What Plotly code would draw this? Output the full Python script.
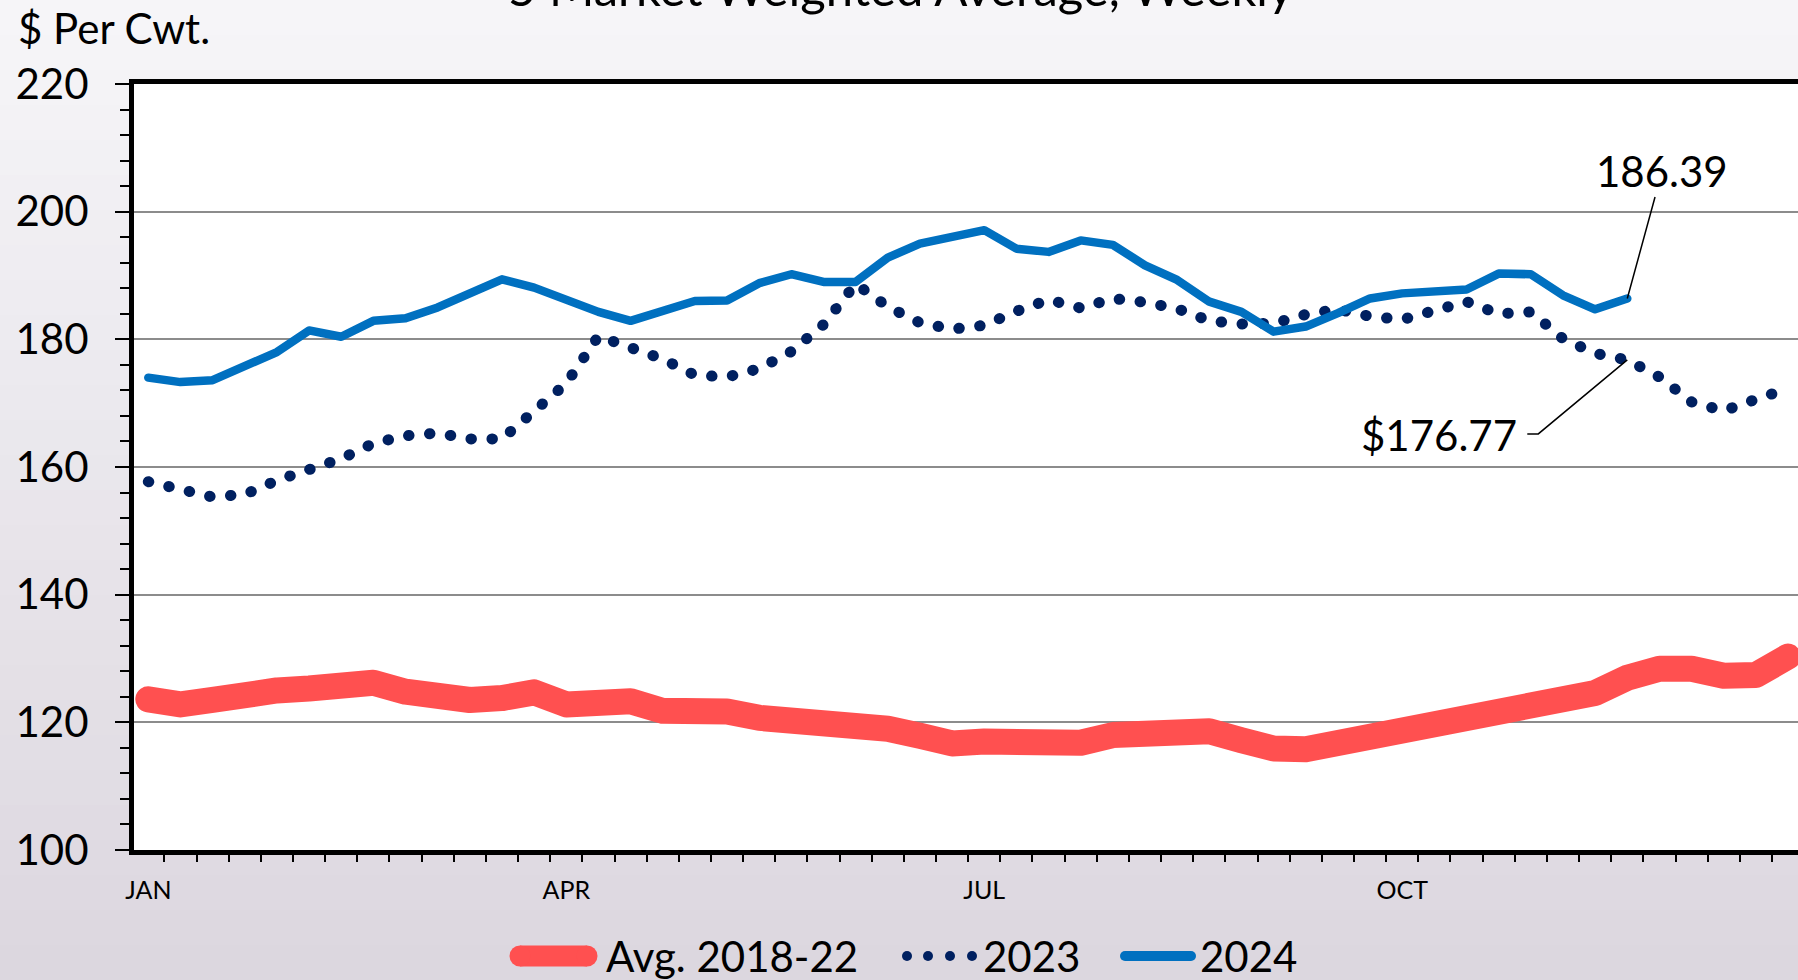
import plotly.graph_objects as go

# ---------------- data ----------------
weeks = list(range(52))
avg_2018_22 = [123.6, 122.8, 123.5, 124.7, 125.0, 125.3, 126.0, 126.2, 124.8, 124.0,
               123.5, 123.8, 124.7, 122.8, 122.7, 123.3, 121.8, 121.8, 121.7, 120.7,
               120.4, 120.0, 120.1, 119.0, 117.9, 116.7, 117.0, 116.9, 116.8, 116.8,
               118.0, 118.4, 118.7, 118.6, 117.2, 115.9, 115.8, 116.8, 117.4, 118.9,
               119.7, 120.2, 121.4, 122.6, 123.7, 124.6, 127.0, 128.4, 128.4, 127.3,
               127.4, 130.3]
y2023 = [157.7, 156.7, 155.3, 155.7, 157.9, 159.6, 161.3, 163.7, 164.9, 165.3,
         164.4, 164.4, 168.8, 173.1, 180.5, 178.6, 176.9, 174.4, 174.1, 175.4,
         178.1, 182.3, 188.7, 185.1, 182.6, 181.6, 182.2, 184.4, 186.2, 184.9,
         186.4, 185.8, 184.8, 182.9, 182.4, 182.5, 183.9, 184.7, 183.6, 183.1,
         184.4, 185.9, 184.0, 184.3, 180.1, 177.8, 176.77, 174.1, 170.2, 168.8,
         170.6, 172.3]
y2024 = [174.0, 173.3, 173.6, 175.7, 178.0, 181.4, 180.4, 182.9, 183.3, 185.0,
         187.3, 189.4, 188.1, 186.2, 184.3, 182.9, 184.3, 186.0, 186.1, 188.8,
         190.2, 189.0, 189.0, 192.8, 195.0, 195.9, 197.1, 194.2, 193.7, 195.5,
         194.8, 191.6, 189.3, 185.9, 184.3, 181.2, 182.0, 184.1, 186.4, 187.2,
         187.5, 187.8, 190.3, 190.2, 186.9, 184.7, 186.39]
month_ticks = [0, 13, 26, 39]
month_labels = ["JAN", "APR", "JUL", "OCT"]
y_ticks = [100, 120, 140, 160, 180, 200, 220]
series_names = ["Avg. 2018-22", "2023", "2024"]
title_text = "5 Market Weighted Average, Weekly"
y_title = "$ Per Cwt."
callout_week = 46

# ---------------- styling ----------------
RED, NAVY, BLUE = "#FF5050", "#002060", "#0070C0"
FONT = "Lato, 'Open Sans', 'Liberation Sans', sans-serif"
W, H = 1798, 980
L, R, T, B = 134, 0, 84, 130
PW, PH = W - L - R, H - T - B


def px(x):
    return (x - L) / PW


def py(y):
    return (T + PH - y) / PH


fig = go.Figure()
fig.add_trace(go.Scatter(x=weeks[:len(avg_2018_22)], y=avg_2018_22, mode="lines",
                         name=series_names[0], line=dict(color=RED, width=26)))
fig.add_trace(go.Scatter(x=weeks[:len(y2023)], y=y2023, mode="lines",
                         name=series_names[1],
                         line=dict(color=NAVY, width=11, dash="0.5px,20.5px")))
fig.add_trace(go.Scatter(x=weeks[:len(y2024)], y=y2024, mode="lines",
                         name=series_names[2], line=dict(color=BLUE, width=8.5)))

shapes = []
# background gradient (paper)
top_c, bot_c = (246, 245, 248), (220, 215, 223)
n = 28
for i in range(n):
    t = i / (n - 1)
    c = tuple(int(round(top_c[k] + (bot_c[k] - top_c[k]) * t)) for k in range(3))
    y0 = H * i / n
    y1 = H * (i + 1) / n + 1
    shapes.append(dict(type="rect", xref="paper", yref="paper", layer="below",
                       x0=px(0), x1=px(W), y0=py(y1), y1=py(y0),
                       fillcolor="rgb(%d,%d,%d)" % c, line=dict(width=0)))
# plot area white
shapes.append(dict(type="rect", xref="paper", yref="paper", layer="below",
                   x0=0, x1=1, y0=0, y1=1, fillcolor="white", line=dict(width=0)))

# callout leader for 2023
shapes.append(dict(type="path", xref="x", yref="y", xsizemode="pixel", ysizemode="pixel",
                   xanchor=callout_week, yanchor=y2023[callout_week],
                   path="M0,0 L-89,-74 L-100,-74",
                   line=dict(color="black", width=1.5)))

# custom legend
LY = 956
shapes.append(dict(type="line", xref="paper", yref="paper", x0=px(520), x1=px(587),
                   y0=py(LY), y1=py(LY), line=dict(color=RED, width=21)))
for cx in (520, 587):
    r = 10.5
    shapes.append(dict(type="circle", xref="paper", yref="paper",
                       x0=px(cx - r), x1=px(cx + r), y0=py(LY + r), y1=py(LY - r),
                       fillcolor=RED, line=dict(width=0)))
for cx in (907, 928, 950, 972):
    r = 5
    shapes.append(dict(type="circle", xref="paper", yref="paper",
                       x0=px(cx - r), x1=px(cx + r), y0=py(LY + r), y1=py(LY - r),
                       fillcolor=NAVY, line=dict(width=0)))
shapes.append(dict(type="line", xref="paper", yref="paper", x0=px(1125), x1=px(1191),
                   y0=py(LY), y1=py(LY), line=dict(color=BLUE, width=10)))
for cx in (1125, 1191):
    r = 5
    shapes.append(dict(type="circle", xref="paper", yref="paper",
                       x0=px(cx - r), x1=px(cx + r), y0=py(LY + r), y1=py(LY - r),
                       fillcolor=BLUE, line=dict(width=0)))

annotations = [
    dict(text=title_text, xref="paper", yref="paper", x=px(900), y=py(-13),
         xanchor="center", yanchor="middle", showarrow=False,
         font=dict(family=FONT, size=49, color="black")),
    dict(text=y_title, xref="paper", yref="paper", x=px(16), y=py(28),
         xanchor="left", yanchor="middle", showarrow=False,
         font=dict(family=FONT, size=42, color="black")),
    dict(text="%.2f" % y2024[-1], x=len(y2024) - 1, y=y2024[-1], xref="x", yref="y",
         showarrow=True, arrowhead=0, arrowwidth=1.5, arrowcolor="black",
         ax=35, ay=-128, font=dict(family=FONT, size=42, color="black")),
    dict(text="$%.2f" % y2023[callout_week], x=callout_week, y=y2023[callout_week],
         xref="x", yref="y", showarrow=False, xshift=-188, yshift=-75,
         font=dict(family=FONT, size=42, color="black")),
    dict(text=series_names[0], xref="paper", yref="paper", x=px(604), y=py(LY),
         xanchor="left", yanchor="middle", showarrow=False,
         font=dict(family=FONT, size=42, color="black")),
    dict(text=series_names[1], xref="paper", yref="paper", x=px(981), y=py(LY),
         xanchor="left", yanchor="middle", showarrow=False,
         font=dict(family=FONT, size=42, color="black")),
    dict(text=series_names[2], xref="paper", yref="paper", x=px(1198), y=py(LY),
         xanchor="left", yanchor="middle", showarrow=False,
         font=dict(family=FONT, size=42, color="black")),
]

fig.update_layout(
    width=W, height=H,
    margin=dict(l=L, r=R, t=T, b=B, pad=0),
    paper_bgcolor="rgb(234,231,236)",
    plot_bgcolor="rgba(0,0,0,0)",
    showlegend=False,
    font=dict(family=FONT, color="black"),
    shapes=shapes,
    annotations=annotations,
    xaxis=dict(range=[-0.445, 51.31], tickmode="array", tickvals=month_ticks,
               ticktext=month_labels, ticks="", showgrid=False, zeroline=False,
               showline=True, linewidth=5, linecolor="black", mirror=True,
               tickfont=dict(family=FONT, size=25, color="black"),
               ticklabelstandoff=14,
               minor=dict(tick0=-0.5, dtick=1, ticks="outside", ticklen=7,
                          tickwidth=2, tickcolor="black", showgrid=False)),
    yaxis=dict(range=[100, 220], tickmode="array", tickvals=y_ticks,
               ticks="outside", ticklen=14, tickwidth=2, tickcolor="black",
               showgrid=True, gridcolor="#8C8C8C", gridwidth=2, zeroline=False,
               showline=True, linewidth=5, linecolor="black",
               tickfont=dict(family=FONT, size=42, color="black"),
               ticklabelstandoff=18,
               minor=dict(tick0=100, dtick=4, ticks="outside", ticklen=9,
                          tickwidth=2, tickcolor="black", showgrid=False)),
)

post_js = """
(function(){
  var gd = document.getElementById('{plot_id}');
  function fix(){
    document.body.style.margin = '0';
    document.body.style.padding = '0';
    var lines = gd.querySelectorAll('.scatterlayer .js-line');
    lines.forEach(function(p){
      p.style.strokeLinecap = 'round';
      p.style.strokeLinejoin = 'round';
    });
  }
  fix();
  if (gd && gd.on) { gd.on('plotly_afterplot', fix); }
})();
"""

fig.write_html("out.html", config={"displayModeBar": False}, post_script=post_js)
